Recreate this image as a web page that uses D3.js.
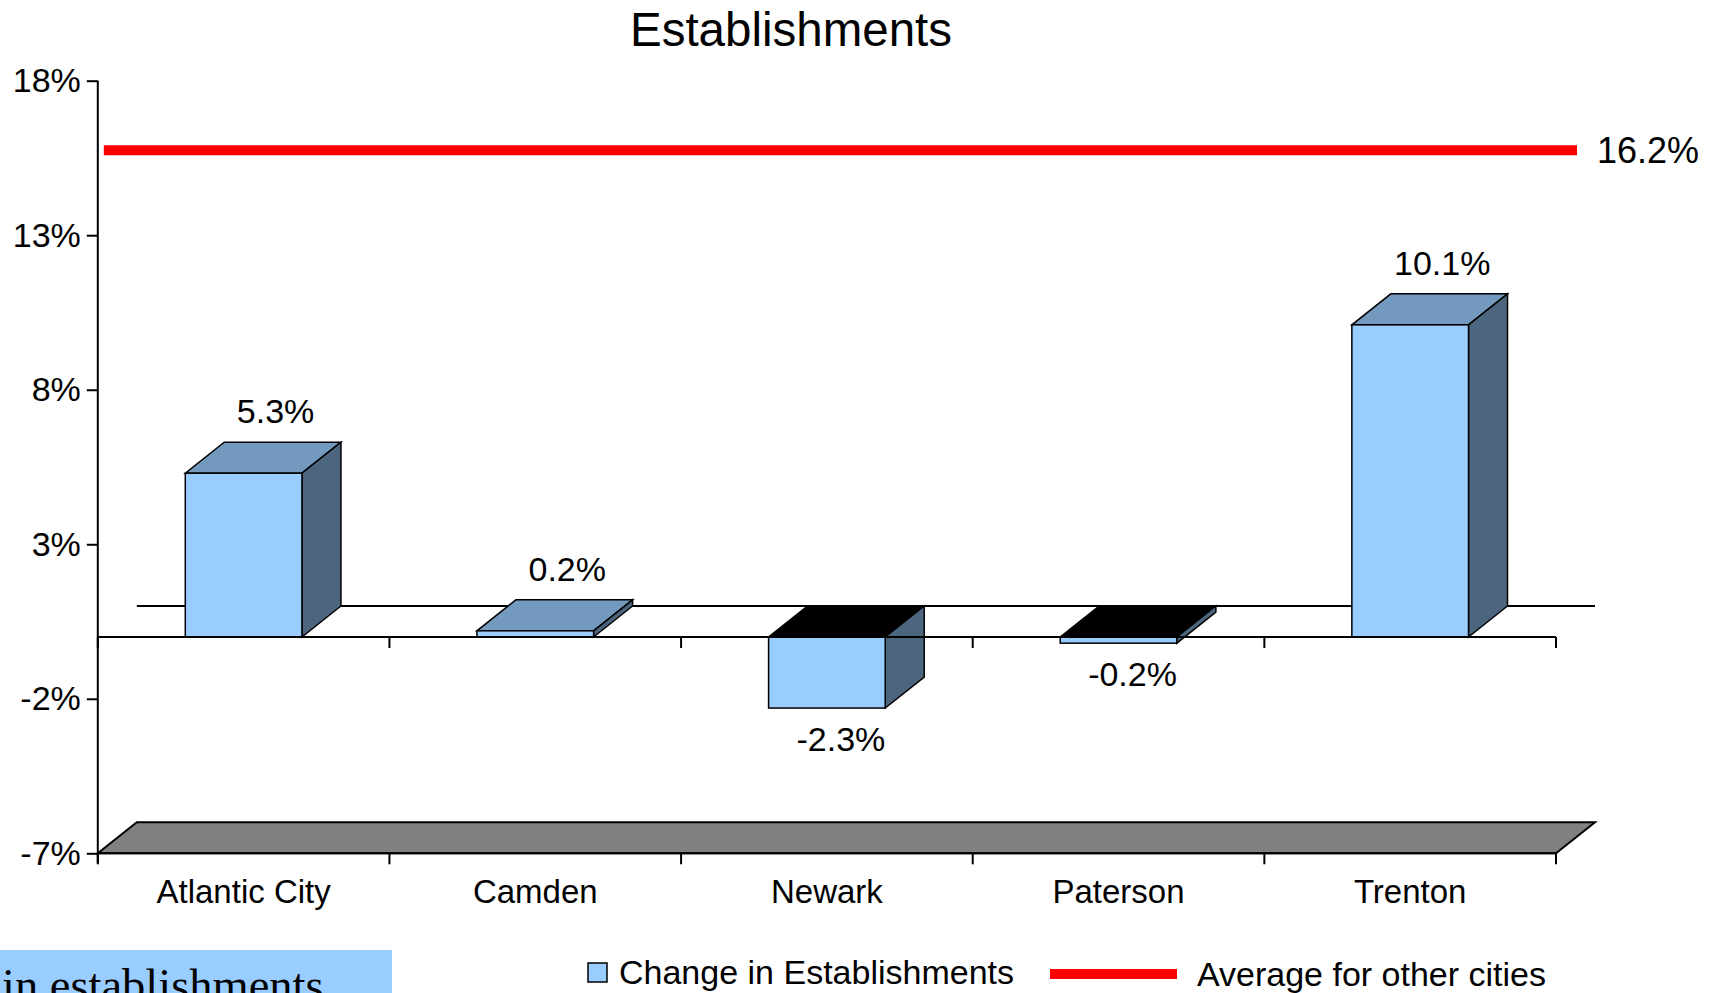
<!DOCTYPE html>
<html>
<head>
<meta charset="utf-8">
<script src="https://cdn.jsdelivr.net/npm/d3@7/dist/d3.min.js"></script>
<style>
  body { margin: 0; background: #fff; }
  svg { display: block; font-family: "Liberation Sans", Arial, sans-serif; }
</style>
</head>
<body>
<svg id="chart" width="1723" height="993"></svg>
<script>
// données du graphique
var categories = ["Atlantic City", "Camden", "Newark", "Paterson", "Trenton"];
var changeValues = [5.3, 0.2, -2.3, -0.2, 10.1];
var averageOther = 16.2;
var yTicks = [18, 13, 8, 3, -2, -7];
var legendLabels = ["Change in Establishments", "Average for other cities"];

var svg = d3.select("#chart");

// couleurs des faces 3D
var frontColor = "#99CCFF";
var topColor = "#7399BF";
var sideColor = "#4D6680";
var floorColor = "#808080";

// profondeur de la perspective
var dx = 39, dy = -31;

var x = d3.scaleBand().domain(categories).range([97.8, 1556]);
var y = d3.scaleLinear().domain([-7, 18]).range([853.3, 80.7]);
// axe secondaire (2D) utilisé par la ligne de moyenne
var yLine = d3.scaleLinear().domain([-7, 18]).range([y(-7), y(18) + 15]);
var xLine = d3.scaleLinear().domain([0, 1]).range([x.range()[0] + 6, x.range()[1] + dx - 18]);

var faceW = x.bandwidth() * 0.4;
var x0 = x.range()[0], x1 = x.range()[1];

function poly(pts) {
  return "M" + pts.map(function(p) { return p[0] + "," + p[1]; }).join("L") + "Z";
}

// titre
svg.append("text")
  .attr("x", 791).attr("y", 46)
  .attr("text-anchor", "middle")
  .style("font-size", "47.5px")
  .text("Establishments");

// ligne zéro du fond
svg.append("line")
  .attr("x1", x0 + dx).attr("x2", x1 + dx)
  .attr("y1", y(0) + dy).attr("y2", y(0) + dy)
  .attr("stroke", "#000").attr("stroke-width", 2);

// plancher gris
svg.append("path")
  .attr("d", poly([[x0, y(-7)], [x1, y(-7)], [x1 + dx, y(-7) + dy], [x0 + dx, y(-7) + dy]]))
  .attr("fill", floorColor)
  .attr("stroke", "#000").attr("stroke-width", 2);

// barres 3D
var bars = svg.append("g").selectAll("g")
  .data(categories)
  .enter().append("g");

bars.each(function(c, i) {
  var v = changeValues[i];
  var g = d3.select(this);
  var l = x(c) + (x.bandwidth() - faceW) / 2;
  var r = l + faceW;
  var yTop = y(Math.max(v, 0));
  var yBot = y(Math.min(v, 0));

  // face supérieure (noire si valeur négative)
  g.append("path")
    .attr("d", poly([[l, yTop], [r, yTop], [r + dx, yTop + dy], [l + dx, yTop + dy]]))
    .attr("fill", v < 0 ? "#000" : topColor)
    .attr("stroke", "#000").attr("stroke-width", 1.5);
  // face latérale
  g.append("path")
    .attr("d", poly([[r, yTop], [r + dx, yTop + dy], [r + dx, yBot + dy], [r, yBot]]))
    .attr("fill", sideColor)
    .attr("stroke", "#000").attr("stroke-width", 1.5);
  // face avant
  g.append("rect")
    .attr("x", l).attr("y", yTop)
    .attr("width", faceW).attr("height", yBot - yTop)
    .attr("fill", frontColor)
    .attr("stroke", "#000").attr("stroke-width", 1.5);

  // étiquette de valeur
  g.append("text")
    .attr("x", x(c) + x.bandwidth() / 2 + (v < 0 ? 14 : 32))
    .attr("y", v < 0 ? yBot + 43 : yTop + dy - 19)
    .attr("text-anchor", "middle")
    .style("font-size", "34px")
    .text(v.toFixed(1) + "%");
});

// axe des catégories (ligne zéro avant) et plancher avant
var bounds = categories.map(function(c) { return x(c); }).concat([x1]);
[0, -7].forEach(function(lv) {
  svg.append("line")
    .attr("x1", x0).attr("x2", x1)
    .attr("y1", y(lv)).attr("y2", y(lv))
    .attr("stroke", "#000").attr("stroke-width", 2);
  svg.append("g").selectAll("line")
    .data(bounds)
    .enter().append("line")
    .attr("x1", function(d) { return d; }).attr("x2", function(d) { return d; })
    .attr("y1", y(lv)).attr("y2", y(lv) + 11)
    .attr("stroke", "#000").attr("stroke-width", 2);
});

// axe vertical
var yAxis = svg.append("g")
  .attr("transform", "translate(" + x0 + ",0)")
  .call(d3.axisLeft(y).tickValues(yTicks).tickSize(11).tickPadding(6)
    .tickFormat(function(d) { return d + "%"; }));
yAxis.select(".domain").attr("d", "M0," + y(18) + "V" + (y(-7) + 10)).attr("stroke-width", 2);
yAxis.selectAll(".tick line").attr("stroke-width", 2);
yAxis.selectAll("text")
  .style("font-size", "34px")
  .style("font-family", "'Liberation Sans', Arial, sans-serif")
  .attr("fill", "#000");

// libellés des catégories
svg.append("g").selectAll("text")
  .data(categories)
  .enter().append("text")
  .attr("x", function(d) { return x(d) + x.bandwidth() / 2; })
  .attr("y", 903)
  .attr("text-anchor", "middle")
  .style("font-size", "33px")
  .text(function(d) { return d; });

// ligne rouge : moyenne des autres villes
svg.append("line")
  .attr("x1", xLine(0)).attr("x2", xLine(1))
  .attr("y1", yLine(averageOther)).attr("y2", yLine(averageOther))
  .attr("stroke", "#FF0000").attr("stroke-width", 10);
svg.append("text")
  .attr("x", xLine(1) + 20).attr("y", yLine(averageOther) + 13)
  .style("font-size", "36px")
  .text(averageOther.toFixed(1) + "%");

// légende
svg.append("rect")
  .attr("x", 588).attr("y", 963).attr("width", 19).attr("height", 19)
  .attr("fill", frontColor).attr("stroke", "#000").attr("stroke-width", 1.5);
svg.append("text")
  .attr("x", 619).attr("y", 984)
  .style("font-size", "34px")
  .text(legendLabels[0]);
svg.append("line")
  .attr("x1", 1050).attr("x2", 1177).attr("y1", 974).attr("y2", 974)
  .attr("stroke", "#FF0000").attr("stroke-width", 10);
svg.append("text")
  .attr("x", 1197).attr("y", 986)
  .style("font-size", "34px")
  .text(legendLabels[1]);

// encadré bleu en bas à gauche (texte coupé par le bord de la diapositive)
svg.append("rect")
  .attr("x", 0).attr("y", 950).attr("width", 392).attr("height", 43)
  .attr("fill", "#99CCFF");
svg.append("text")
  .attr("x", 2).attr("y", 1001)
  .style("font-family", "'Liberation Serif', 'DejaVu Serif', serif")
  .style("font-size", "46.5px")
  .text("in establishments");
</script>
</body>
</html>
